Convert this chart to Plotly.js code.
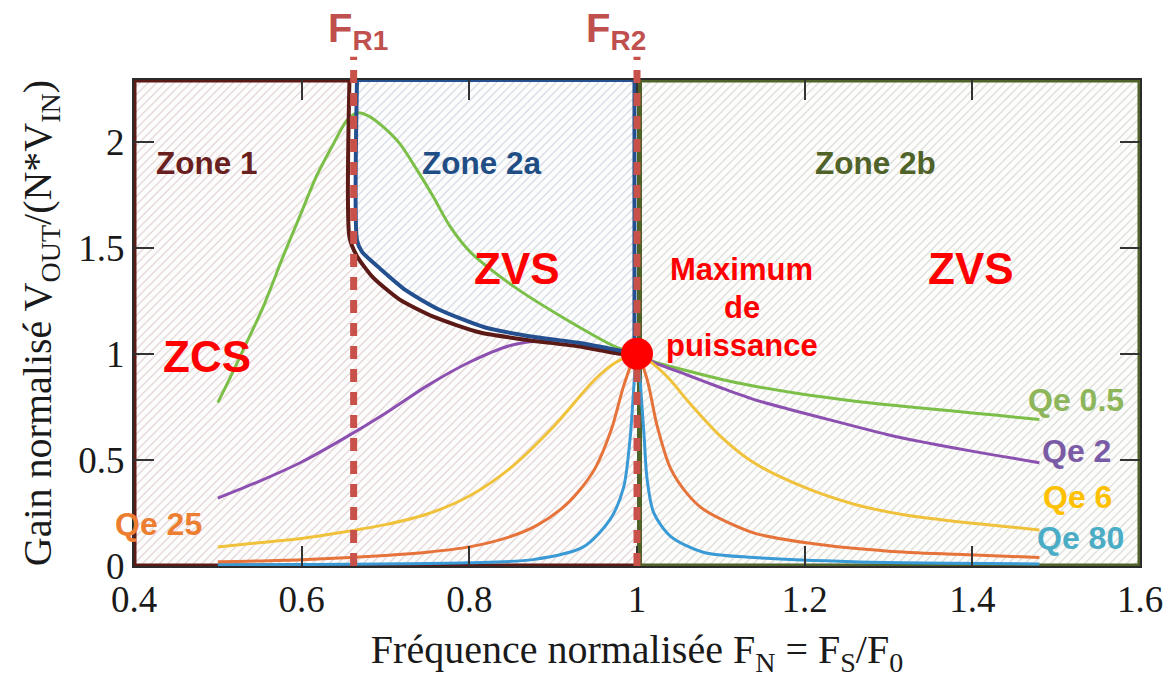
<!DOCTYPE html>
<html>
<head>
<meta charset="utf-8">
<script src="https://cdn.plot.ly/plotly-3.0.1.min.js"></script>
<style>html,body{margin:0;padding:0;background:#fff;}#chart{width:1170px;height:680px;}</style>
</head>
<body>
<div id="chart"></div>
<script>
// ---------------- data ----------------
const xTicks = [0.4, 0.6, 0.8, 1.0, 1.2, 1.4, 1.6];
const xTickLabels = ['0.4', '0.6', '0.8', '1', '1.2', '1.4', '1.6'];
const yTicks = [0, 0.5, 1, 1.5, 2];
const yTickLabels = ['0', '0.5', '1', '1.5', '2'];

const seriesNames = ['Qe 0.5', 'Qe 2', 'Qe 6', 'Qe 25', 'Qe 80'];

const qe05X = [0.5, 0.515, 0.534, 0.554, 0.578, 0.598, 0.618, 0.638, 0.654, 0.666, 0.68, 0.697, 0.717, 0.737, 0.757, 0.777, 0.801, 0.852, 0.912, 0.976, 1.0, 1.02, 1.06, 1.1, 1.139, 1.2, 1.258, 1.32, 1.377, 1.43, 1.48];
const qe05Y = [0.77, 0.89, 1.05, 1.22, 1.46, 1.65, 1.84, 1.99, 2.10, 2.135, 2.12, 2.07, 1.99, 1.87, 1.74, 1.60, 1.48, 1.32, 1.17, 1.03, 1.0, 0.963, 0.92, 0.88, 0.848, 0.808, 0.778, 0.752, 0.73, 0.71, 0.69];

const qe2X = [0.5, 0.55, 0.6, 0.65, 0.7, 0.75, 0.8, 0.85, 0.9, 0.95, 1.0, 1.02, 1.06, 1.1, 1.139, 1.18, 1.219, 1.26, 1.298, 1.34, 1.377, 1.43, 1.48];
const qe2Y = [0.32, 0.40, 0.49, 0.60, 0.72, 0.85, 0.96, 1.04, 1.065, 1.035, 1.0, 0.96, 0.90, 0.84, 0.785, 0.74, 0.70, 0.658, 0.62, 0.585, 0.557, 0.52, 0.487];

const qe6X = [0.5, 0.55, 0.6, 0.65, 0.7, 0.75, 0.8, 0.85, 0.9, 0.95, 0.975, 1.0, 1.02, 1.04, 1.06, 1.1, 1.14, 1.2, 1.26, 1.32, 1.38, 1.43, 1.48];
const qe6Y = [0.09, 0.11, 0.13, 0.16, 0.195, 0.245, 0.33, 0.465, 0.655, 0.88, 0.96, 1.0, 0.95, 0.875, 0.78, 0.61, 0.485, 0.37, 0.29, 0.24, 0.21, 0.19, 0.17];

const qe25X = [0.5, 0.6, 0.7, 0.75, 0.8, 0.85, 0.88, 0.91, 0.93, 0.95, 0.97, 0.985, 1.0, 1.012, 1.024, 1.04, 1.06, 1.08, 1.14, 1.22, 1.3, 1.38, 1.48];
const qe25Y = [0.02, 0.03, 0.05, 0.065, 0.09, 0.14, 0.19, 0.27, 0.35, 0.46, 0.65, 0.86, 1.0, 0.88, 0.66, 0.46, 0.34, 0.265, 0.155, 0.10, 0.07, 0.055, 0.04];

const qe80X = [0.5, 0.797, 0.876, 0.936, 0.968, 0.984, 0.992, 1.0, 1.008, 1.012, 1.02, 1.04, 1.079, 1.139, 1.258, 1.48];
const qe80Y = [0.005, 0.015, 0.03, 0.09, 0.22, 0.37, 0.61, 1.0, 0.64, 0.41, 0.25, 0.14, 0.065, 0.04, 0.02, 0.01];

// zone boundaries (envelopes)
const env1X = [0.657, 0.657, 0.666, 0.685, 0.717, 0.757, 0.813, 0.873, 0.932, 0.98, 1.0];
const env1Y = [2.29, 1.55, 1.46, 1.36, 1.255, 1.175, 1.10, 1.063, 1.034, 1.0, 0.995];
const env2aX = [0.666, 0.666, 0.672, 0.694, 0.724, 0.763, 0.818, 0.876, 0.934, 0.98, 1.0];
const env2aY = [2.29, 1.535, 1.48, 1.40, 1.30, 1.21, 1.125, 1.08, 1.05, 1.015, 1.0];

const xMin = 0.4, xMax = 1.6, yMin = 0, yMax = 2.29;
const fr1 = 0.662, fr2 = 1.0;
const maxPowerX = 1.0, maxPowerY = 1.0;

// ---------------- styles ----------------
const curveColors = ['#7bbf48', '#8c50b0', '#f0c23c', '#e5733a', '#3a9ad6'];
const labelColors = ['#8db55a', '#7a5ca6', '#ffc000', '#ed7d31', '#4bacc6'];
const zone1Col = '#5c1a17', zone2aCol = '#24508f', zone2bCol = '#4f6228';
const sans = '"Liberation Sans", Arial, sans-serif';
const serif = '"Liberation Serif", "Times New Roman", serif';

const traces = [];

// zone fills (hatched)
const zone1X = [xMin, xMin].concat(env1X, [fr2, xMin]);
const zone1Y = [yMin, yMax].concat(env1Y, [yMin, yMin]);
traces.push({x: zone1X, y: zone1Y, mode: 'lines', fill: 'toself', line: {width: 0}, fillcolor: '#ffffff',
  fillpattern: {shape: '/', fgcolor: '#dbcaca', bgcolor: '#fefdfd', size: 6, solidity: 0.17}, hoverinfo: 'skip', showlegend: false});
const zone2aX = [env2aX[0], fr2 - 0.003, fr2 - 0.003].concat(env2aX.slice().reverse());
const zone2aY = [yMax, yMax, maxPowerY].concat(env2aY.slice().reverse());
traces.push({x: zone2aX, y: zone2aY, mode: 'lines', fill: 'toself', line: {width: 0}, fillcolor: '#ffffff',
  fillpattern: {shape: '/', fgcolor: '#cbd1db', bgcolor: '#fdfdfe', size: 6, solidity: 0.17}, hoverinfo: 'skip', showlegend: false});
const zone2bX = [fr2 + 0.003, xMax, xMax, fr2 + 0.003, fr2 + 0.003];
const zone2bY = [yMin, yMin, yMax, yMax, yMin];
traces.push({x: zone2bX, y: zone2bY, mode: 'lines', fill: 'toself', line: {width: 0}, fillcolor: '#ffffff',
  fillpattern: {shape: '/', fgcolor: '#d2d3cd', bgcolor: '#fdfdfc', size: 6, solidity: 0.17}, hoverinfo: 'skip', showlegend: false});

// zone borders
traces.push({x: [env1X[0], xMin, xMin, fr2], y: [yMax, yMax, yMin, yMin], mode: 'lines', line: {color: zone1Col, width: 5}, hoverinfo: 'skip', showlegend: false});
traces.push({x: [fr2 + 0.003, fr2 + 0.003, xMax, xMax, fr2 + 0.003], y: [yMin, yMax, yMax, yMin, yMin], mode: 'lines', line: {color: zone2bCol, width: 5}, hoverinfo: 'skip', showlegend: false});
traces.push({x: [env2aX[0], fr2 - 0.003, fr2 - 0.003], y: [yMax, yMax, maxPowerY], mode: 'lines', line: {color: zone2aCol, width: 4}, hoverinfo: 'skip', showlegend: false});

// gain curves
const curveX = [qe05X, qe2X, qe6X, qe25X, qe80X];
const curveY = [qe05Y, qe2Y, qe6Y, qe25Y, qe80Y];
for (let i = 0; i < curveX.length; i++) {
  traces.push({x: curveX[i], y: curveY[i], name: seriesNames[i], mode: 'lines',
    line: {color: curveColors[i], width: 3, shape: 'spline', smoothing: 0.8}, showlegend: false});
}

// envelope curves on top
traces.push({x: env1X, y: env1Y, mode: 'lines', line: {color: zone1Col, width: 4, shape: 'spline', smoothing: 0.6}, hoverinfo: 'skip', showlegend: false});
traces.push({x: env2aX, y: env2aY, mode: 'lines', line: {color: zone2aCol, width: 4, shape: 'spline', smoothing: 0.6}, hoverinfo: 'skip', showlegend: false});

// ---------------- shapes ----------------
const dashStyle = {color: '#c8514a', width: 7, dash: '13px,10px'};
const shapes = [
  {type: 'line', xref: 'x', yref: 'paper', x0: fr1, x1: fr1, y0: 0, y1: 1.048, line: dashStyle, layer: 'above'},
  {type: 'line', xref: 'x', yref: 'paper', x0: fr2, x1: fr2, y0: 0, y1: 1.048, line: dashStyle, layer: 'above'},
  {type: 'circle', xref: 'x', yref: 'y', xsizemode: 'pixel', ysizemode: 'pixel', xanchor: maxPowerX, yanchor: maxPowerY,
   x0: -16, x1: 16, y0: -16, y1: 16, fillcolor: '#ff0000', line: {width: 0}, layer: 'above'}
];

// ---------------- annotations ----------------
function ann(text, x, y, color, size, extra) {
  return Object.assign({text: text, x: x, y: y, xref: 'x', yref: 'y', showarrow: false,
    font: {family: sans, size: size, color: color, weight: 'bold'}, xanchor: 'center', yanchor: 'middle'}, extra || {});
}
const annotations = [
  ann('F<sub>R1</sub>', fr1 + 0.005, 1.1, '#c0504d', 40, {yref: 'paper'}),
  ann('F<sub>R2</sub>', fr2 - 0.025, 1.1, '#c0504d', 40, {yref: 'paper'}),
  ann('Zone 1', 0.487, 1.90, '#6a1f1f', 31.5),
  ann('Zone 2a', 0.815, 1.90, '#1f4e85', 31.5),
  ann('Zone 2b', 1.284, 1.90, '#4f6228', 31.5),
  ann('ZVS', 0.857, 1.40, '#ff0000', 44),
  ann('ZVS', 1.399, 1.40, '#ff0000', 44),
  ann('ZCS', 0.487, 0.986, '#ff0000', 44),
  ann('Maximum', 1.125, 1.395, '#ff0000', 31),
  ann('de', 1.125, 1.22, '#ff0000', 31),
  ann('puissance', 1.125, 1.04, '#ff0000', 31),
  ann(seriesNames[0], 1.524, 0.78, labelColors[0], 32),
  ann(seriesNames[1], 1.524, 0.54, labelColors[1], 32),
  ann(seriesNames[2], 1.525, 0.323, labelColors[2], 32),
  ann(seriesNames[4], 1.529, 0.13, labelColors[4], 32),
  ann(seriesNames[3], 0.429, 0.20, labelColors[3], 32)
];

const layout = {
  width: 1170, height: 680,
  margin: {l: 134, r: 30, t: 80, b: 114},
  paper_bgcolor: '#ffffff', plot_bgcolor: '#ffffff',
  showlegend: false,
  xaxis: {
    range: [xMin, xMax], tickvals: xTicks, ticktext: xTickLabels,
    ticks: 'inside', ticklen: 20, tickwidth: 2, tickcolor: '#333',
    showline: true, linecolor: '#2b2b2b', linewidth: 2, mirror: 'ticks',
    showgrid: false, zeroline: false,
    tickfont: {family: serif, size: 37, color: '#1a1a1a'},
    title: {text: 'Fréquence normalisée F<sub>N</sub> = F<sub>S</sub>/F<sub>0</sub>', font: {family: serif, size: 40, color: '#1a1a1a'}, standoff: 16}
  },
  yaxis: {
    range: [yMin, yMax], tickvals: yTicks, ticktext: yTickLabels,
    ticks: 'inside', ticklen: 20, tickwidth: 2, tickcolor: '#333',
    showline: true, linecolor: '#2b2b2b', linewidth: 2, mirror: 'ticks',
    showgrid: false, zeroline: false,
    tickfont: {family: serif, size: 37, color: '#1a1a1a'},
    title: {text: 'Gain normalisé V<sub>OUT</sub>/(N*V<sub>IN</sub>)', font: {family: serif, size: 40, color: '#1a1a1a'}, standoff: 14}
  },
  shapes: shapes,
  annotations: annotations
};

Plotly.newPlot('chart', traces, layout, {displayModeBar: false, staticPlot: true});
</script>
</body>
</html>
